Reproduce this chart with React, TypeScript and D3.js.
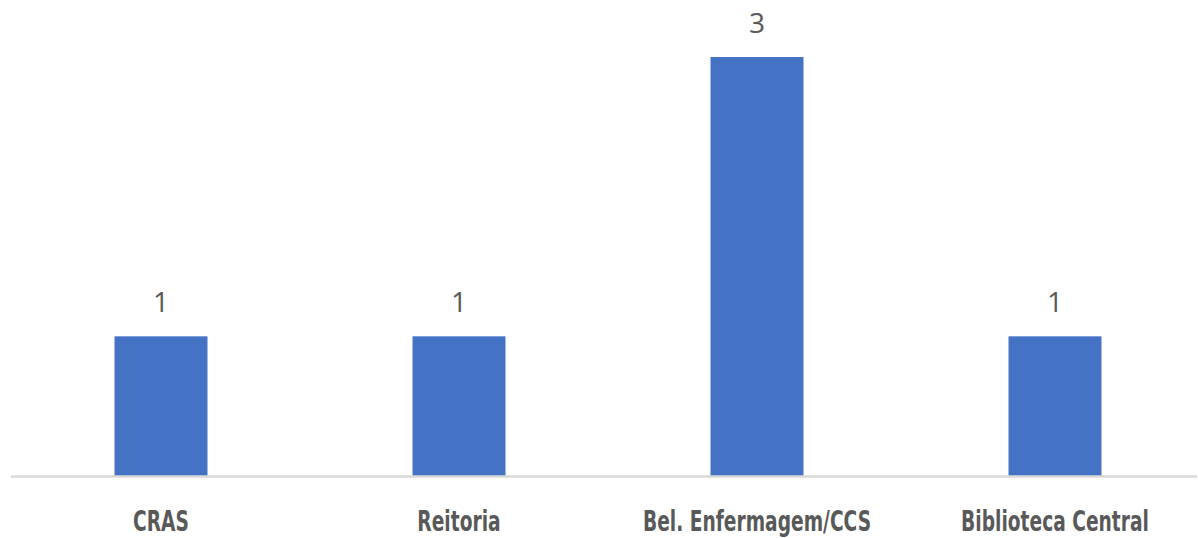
import React from "react";
import * as d3 from "d3";

const categories = ["CRAS", "Reitoria", "Bel. Enfermagem/CCS", "Biblioteca Central"];
const values = [1, 1, 3, 1];

const W = 1198;
const H = 538;

export default function App() {
  const x = d3.scaleBand<string>().domain(categories).range([12, 1204]).paddingInner(0.688).paddingOuter(0.344);
  const y = d3.scaleLinear().domain([0, 3]).range([476, 57]);
  const bw = x.bandwidth();
  return (
    <svg width={W} height={H} style={{ position: "absolute", left: 0, top: 0, background: "#fff" }}>
      {categories.map((c, i) => (
        <rect key={c} x={x(c)} y={y(values[i])} width={bw} height={y(0) - y(values[i])} fill="#4472C4" />
      ))}
      <line x1={11} x2={1197} y1={476.5} y2={476.5} stroke="#d9d9d9" strokeWidth={2.5} />
      {categories.map((c, i) => (
        <text
          key={"v" + c}
          x={(x(c) as number) + bw / 2}
          y={y(values[i]) - 24}
          textAnchor="middle"
          fontFamily="'Open Sans', 'Liberation Sans', sans-serif"
          fontSize={28}
          fill="#595959"
        >
          {values[i]}
        </text>
      ))}
      {categories.map((c) => (
        <text
          key={"c" + c}
          transform={`translate(${(x(c) as number) + bw / 2},531) scale(0.74,1)`}
          textAnchor="middle"
          fontFamily="'DejaVu Sans Condensed', 'DejaVu Sans', sans-serif"
          fontWeight="bold"
          fontSize={28}
          fill="#595959"
        >
          {c}
        </text>
      ))}
    </svg>
  );
}
